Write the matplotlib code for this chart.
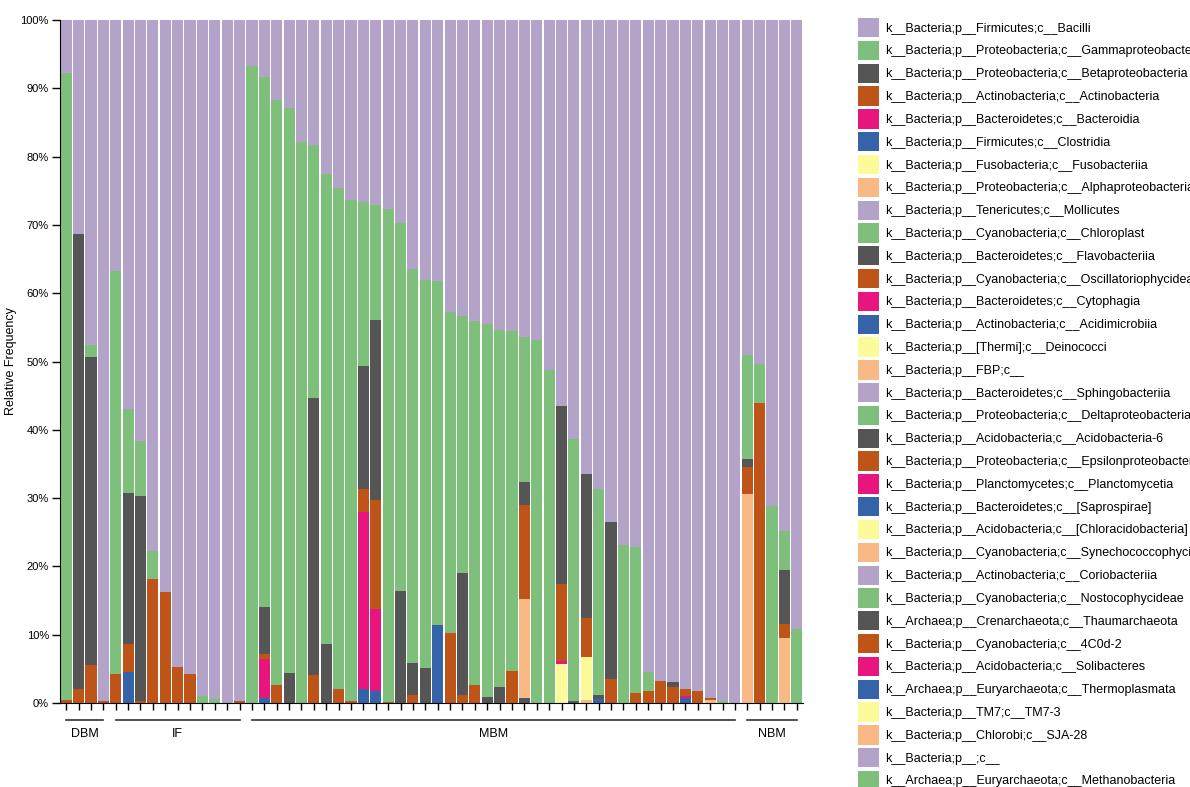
import numpy as np
import matplotlib
matplotlib.use("Agg")
import matplotlib.pyplot as plt
import matplotlib.transforms as mtransforms
from matplotlib.ticker import FuncFormatter

plt.rcParams['font.family'] = ['Liberation Sans', 'DejaVu Sans']

# legend / stacking order (first = top of each bar)
categories = [
    'k__Bacteria;p__Firmicutes;c__Bacilli',
    'k__Bacteria;p__Proteobacteria;c__Gammaproteobacteria',
    'k__Bacteria;p__Proteobacteria;c__Betaproteobacteria',
    'k__Bacteria;p__Actinobacteria;c__Actinobacteria',
    'k__Bacteria;p__Bacteroidetes;c__Bacteroidia',
    'k__Bacteria;p__Firmicutes;c__Clostridia',
    'k__Bacteria;p__Fusobacteria;c__Fusobacteriia',
    'k__Bacteria;p__Proteobacteria;c__Alphaproteobacteria',
    'k__Bacteria;p__Tenericutes;c__Mollicutes',
    'k__Bacteria;p__Cyanobacteria;c__Chloroplast',
    'k__Bacteria;p__Bacteroidetes;c__Flavobacteriia',
    'k__Bacteria;p__Cyanobacteria;c__Oscillatoriophycideae',
    'k__Bacteria;p__Bacteroidetes;c__Cytophagia',
    'k__Bacteria;p__Actinobacteria;c__Acidimicrobiia',
    'k__Bacteria;p__[Thermi];c__Deinococci',
    'k__Bacteria;p__FBP;c__',
    'k__Bacteria;p__Bacteroidetes;c__Sphingobacteriia',
    'k__Bacteria;p__Proteobacteria;c__Deltaproteobacteria',
    'k__Bacteria;p__Acidobacteria;c__Acidobacteria-6',
    'k__Bacteria;p__Proteobacteria;c__Epsilonproteobacteria',
    'k__Bacteria;p__Planctomycetes;c__Planctomycetia',
    'k__Bacteria;p__Bacteroidetes;c__[Saprospirae]',
    'k__Bacteria;p__Acidobacteria;c__[Chloracidobacteria]',
    'k__Bacteria;p__Cyanobacteria;c__Synechococcophycideae',
    'k__Bacteria;p__Actinobacteria;c__Coriobacteriia',
    'k__Bacteria;p__Cyanobacteria;c__Nostocophycideae',
    'k__Archaea;p__Crenarchaeota;c__Thaumarchaeota',
    'k__Bacteria;p__Cyanobacteria;c__4C0d-2',
    'k__Bacteria;p__Acidobacteria;c__Solibacteres',
    'k__Archaea;p__Euryarchaeota;c__Thermoplasmata',
    'k__Bacteria;p__TM7;c__TM7-3',
    'k__Bacteria;p__Chlorobi;c__SJA-28',
    'k__Bacteria;p__;c__',
    'k__Archaea;p__Euryarchaeota;c__Methanobacteria',
]

palette = ['#b3a3c9', '#7dbf7b', '#555555', '#bf5418',
           '#e8157f', '#3463a9', '#fdfb99', '#f9b984']

group_names = ['DBM', 'IF', 'MBM', 'NBM']
group_sizes = [4, 11, 40, 5]

# relative frequency (%) per sample, samples ordered DBM | IF | MBM | NBM
bacilli = [7.7, 31.3, 47.6, 99.7,
           36.8, 57.0, 61.6, 77.8, 83.7, 94.7, 95.8, 99.0, 99.4, 100, 99.7,
           6.8, 8.4, 11.7, 12.9, 17.8, 18.3, 22.5, 24.6, 26.4, 26.7,
           27.1, 27.6, 29.7, 36.4, 38.0, 38.2, 42.7, 43.4, 44.0, 44.5,
           45.4, 45.5, 46.4, 46.9, 51.2, 56.5, 61.3, 66.5, 68.6, 73.5,
           76.9, 77.1, 95.5, 96.8, 96.9, 97.9, 98.2, 99.2, 99.7, 100,
           49.0, 50.3, 71.2, 74.8, 89.1]
gammaproteo = [91.8, 0, 1.7, 0,
               59.0, 12.2, 8.1, 4.0, 0, 0, 0, 1.0, 0.6, 0, 0,
               93.2, 77.5, 85.7, 82.7, 82.2, 37.1, 68.9, 73.4, 73.3, 24.0,
               16.8, 72.2, 53.9, 57.7, 56.9, 50.4, 47.1, 37.5, 53.4, 54.6,
               52.2, 49.8, 21.2, 53.1, 48.8, 0, 38.4, 0, 30.2, 0,
               23.1, 21.5, 2.7, 0, 0, 0, 0, 0, 0.3, 0,
               15.3, 5.8, 28.8, 5.7, 10.9]
betaproteo = [0, 66.6, 45.1, 0,
              0, 22.1, 30.0, 0, 0, 0, 0, 0, 0, 0, 0,
              0, 6.9, 0, 4.4, 0, 40.5, 8.6, 0, 0, 17.9,
              26.4, 0, 16.4, 4.7, 5.1, 0, 0, 17.9, 0, 0.9,
              2.4, 0, 3.4, 0, 0, 26.1, 0.3, 21.1, 0.6, 23.0,
              0, 0, 0, 0, 0.7, 0, 0, 0, 0, 0,
              1.2, 0, 0, 8.0, 0]
actino = [0.5, 2.1, 5.6, 0.3,
          4.2, 4.2, 0.3, 18.2, 16.3, 5.3, 4.2, 0, 0, 0, 0.3,
          0, 0.7, 2.6, 0, 0, 4.1, 0, 2.0, 0.3, 3.4,
          16.0, 0.2, 0, 1.2, 0, 0, 10.2, 1.2, 2.6, 0,
          0, 4.7, 13.7, 0, 0, 11.2, 0, 5.6, 0, 3.5,
          0, 1.4, 1.8, 3.2, 2.4, 1.1, 1.8, 0.4, 0, 0,
          3.9, 43.9, 0, 2.0, 0]
bacteroidia = [0, 0, 0, 0,
               0, 0, 0, 0, 0, 0, 0, 0, 0, 0, 0,
               0, 5.7, 0, 0, 0, 0, 0, 0, 0, 25.9,
               11.9, 0, 0, 0, 0, 0, 0, 0, 0, 0,
               0, 0, 0, 0, 0, 0.5, 0, 0, 0, 0,
               0, 0, 0, 0, 0, 0.3, 0, 0, 0, 0,
               0, 0, 0, 0, 0]
clostridia = [0, 0, 0, 0,
              0, 4.5, 0, 0, 0, 0, 0, 0, 0, 0, 0,
              0, 0.8, 0, 0, 0, 0, 0, 0, 0, 2.1,
              1.8, 0, 0, 0, 0, 11.4, 0, 0, 0, 0,
              0, 0, 0, 0, 0, 0, 0, 0, 0.6, 0,
              0, 0, 0, 0, 0, 0.7, 0, 0, 0, 0,
              0, 0, 0, 0, 0]
fuso = [0, 0, 0, 0,
        0, 0, 0, 0, 0, 0, 0, 0, 0, 0, 0,
        0, 0, 0, 0, 0, 0, 0, 0, 0, 0,
        0, 0, 0, 0, 0, 0, 0, 0, 0, 0,
        0, 0, 0, 0, 0, 5.7, 0, 6.3, 0, 0,
        0, 0, 0, 0, 0, 0, 0, 0, 0, 0,
        0, 0, 0, 0, 0]
alphaproteo = [0, 0, 0, 0,
               0, 0, 0, 0, 0, 0, 0, 0, 0, 0, 0,
               0, 0, 0, 0, 0, 0, 0, 0, 0, 0,
               0, 0, 0, 0, 0, 0, 0, 0, 0, 0,
               0, 0, 14.5, 0, 0, 0, 0, 0.5, 0, 0,
               0, 0, 0, 0, 0, 0, 0, 0.4, 0, 0,
               30.6, 0, 0, 9.5, 0]
acido6 = [0, 0, 0, 0,
          0, 0, 0, 0, 0, 0, 0, 0, 0, 0, 0,
          0, 0, 0, 0, 0, 0, 0, 0, 0, 0,
          0, 0, 0, 0, 0, 0, 0, 0, 0, 0,
          0, 0, 0.8, 0, 0, 0, 0, 0, 0, 0,
          0, 0, 0, 0, 0, 0, 0, 0, 0, 0,
          0, 0, 0, 0, 0]

n_samples = len(bacilli)
values = {c: np.zeros(n_samples) for c in categories}
values[categories[0]] = np.array(bacilli)
values[categories[1]] = np.array(gammaproteo)
values[categories[2]] = np.array(betaproteo)
values[categories[3]] = np.array(actino)
values[categories[4]] = np.array(bacteroidia)
values[categories[5]] = np.array(clostridia)
values[categories[6]] = np.array(fuso)
values[categories[7]] = np.array(alphaproteo)
values[categories[18]] = np.array(acido6)

fig = plt.figure(figsize=(11.9, 7.87), dpi=100)
ax = fig.add_axes([60 / 1190, 84 / 787, 743 / 1190, 683 / 787])

x = np.arange(n_samples)
bottom = np.zeros(n_samples)
handles = {}
# last category at the bottom of the stack, first on top
for i in range(len(categories) - 1, -1, -1):
    cat = categories[i]
    h = ax.bar(x, values[cat], bottom=bottom, width=0.9,
               color=palette[i % len(palette)], linewidth=0, label=cat)
    handles[cat] = h
    bottom += values[cat]

ax.set_xlim(-0.5, n_samples - 0.5)
ax.set_ylim(0, 100)
ax.set_yticks(np.arange(0, 101, 10))
ax.yaxis.set_major_formatter(FuncFormatter(lambda v, p: f'{v:.0f}%'))
ax.set_xticks(x)
ax.set_xticklabels([])
ax.tick_params(axis='y', labelsize=8, length=6, width=1, pad=2)
ax.tick_params(axis='x', length=5, width=1)
ax.set_ylabel('Relative Frequency', fontsize=9)
ax.yaxis.set_label_coords(-43 / 743, 0.5)
for s in ['top', 'right']:
    ax.spines[s].set_visible(False)

# group brackets below the axis
trans = mtransforms.blended_transform_factory(ax.transData, ax.transAxes)
start = 0
for name, size in zip(group_names, group_sizes):
    x0, x1 = start, start + size - 1
    ax.plot([x0, x1], [-0.025, -0.025], color='#333333', lw=1.2,
            transform=trans, clip_on=False)
    ax.text((x0 + x1) / 2, -0.045, name, transform=trans, ha='center',
            va='center', fontsize=9)
    start += size

leg = ax.legend([handles[c] for c in categories], categories,
                loc='upper left', bbox_to_anchor=(858 / 1190, 1 - 18 / 787),
                bbox_transform=fig.transFigure, frameon=False, fontsize=9,
                handlelength=1.65, handleheight=2.0, labelspacing=0.28,
                handletextpad=0.55, borderpad=0, borderaxespad=0)

fig.savefig('out.png', dpi=100)
